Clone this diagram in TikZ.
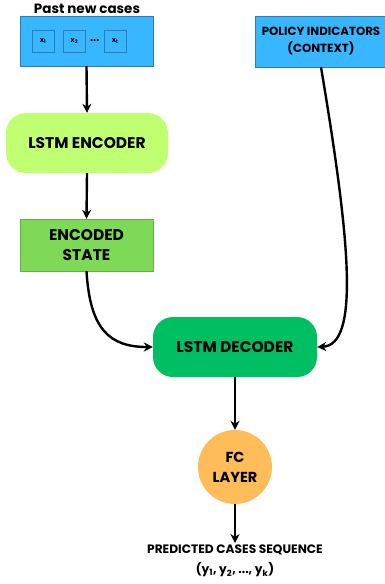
\documentclass[tikz,border=0pt]{standalone}
\usepackage{fontspec}
\setmainfont{Poppins}[UprightFont=*-Bold]
\usetikzlibrary{arrows.meta,positioning}
\definecolor{skyblue}{HTML}{38B6FF}
\definecolor{limegreen}{HTML}{C1FF72}
\definecolor{leafgreen}{HTML}{7ED957}
\definecolor{deepgreen}{HTML}{00BF63}
\definecolor{sunorange}{HTML}{FFBD59}
\begin{document}
\begin{tikzpicture}[x=1pt,y=-1pt,
  flow/.style={line width=2.4pt, -{Stealth[length=9pt,width=9pt]}},
  inbox/.style={draw=skyblue!70!black, line width=0.4pt, fill=skyblue, rectangle, align=center},
  cell/.style={draw=skyblue!70!black, line width=0.4pt, fill=skyblue, rectangle, minimum width=22pt, minimum height=22pt, inner sep=0pt, font=\fontsize{7}{8}\selectfont},
  roundbox/.style={rectangle, rounded corners=20pt, minimum height=60pt, align=center, font=\fontsize{15.5}{18}\selectfont}]
\useasboundingbox (0,0) rectangle (385,584);
% inputs
\node (pasttitle) at (87,9) {\fontsize{13.5}{15}\selectfont Past new cases};
\node (past)[inbox, minimum width=133pt, minimum height=50pt] at (86.5,41) {};
\node (xone)[cell] at (43,41) {x\textsubscript{1}};
\node (xtwo)[cell, right=9pt of xone] {x\textsubscript{2}};
\node (dots) [right=1pt of xtwo, font=\fontsize{11}{12}\selectfont] {...};
\node (xt)[cell, right=1pt of dots] {x\textsubscript{t}};
\node (policy)[inbox, minimum width=131pt, minimum height=51pt, inner sep=1pt, font=\fontsize{11.8}{17}\selectfont] at (321,41.5) {POLICY INDICATORS\\(CONTEXT)};
% encoder side
\node (encoder)[roundbox, fill=limegreen, minimum width=162pt] at (87,143) {LSTM ENCODER};
\node (state)[draw=leafgreen!80!black, line width=0.4pt, fill=leafgreen, rectangle, minimum width=133pt, minimum height=52pt, align=center, font=\fontsize{15.5}{20}\selectfont] at (86.5,245) {ENCODED\\STATE};
% decoder side
\node (decoder)[roundbox, fill=deepgreen, minimum width=164pt] at (235,347) {LSTM DECODER};
\node (fc)[circle, fill=sunorange, minimum size=74pt, inner sep=0pt, align=center, font=\fontsize{14.5}{20}\selectfont] at (235,467) {FC\\LAYER};
\node (output)[align=center, font=\fontsize{12.2}{20}\selectfont, anchor=north, inner sep=2pt] at (235,543) {PREDICTED CASES SEQUENCE\\(y\textsubscript{1}, y\textsubscript{2}, ..., y\textsubscript{k})};
% connectors
\draw [flow](past.south)--(encoder.north);
\draw [flow](encoder.south)--(state.north);
\draw [flow](state.south) .. controls (90,330) and (110,347) .. (decoder.west);
\draw [flow](policy.south) .. controls (350,240) and (360,345) .. (decoder.east);
\draw [flow](decoder.south)--(fc.north);
\draw [flow](fc.south)--(output.north);
\end{tikzpicture}
\end{document}
